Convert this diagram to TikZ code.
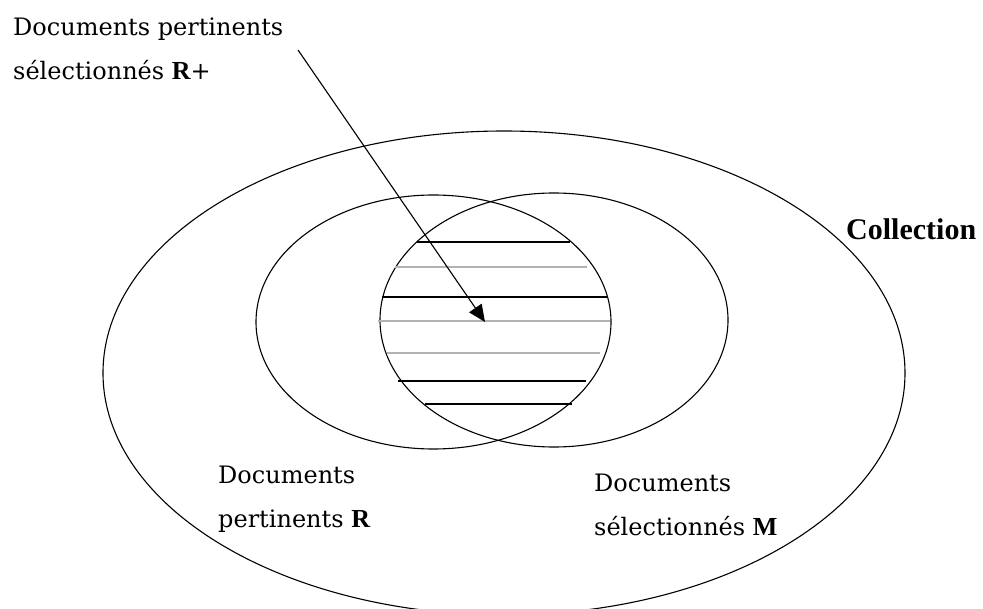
\documentclass[tikz,border=0pt]{standalone}
\usepackage{fontspec}
\setmainfont{DejaVu Serif}
\newfontfamily\timesfont{Liberation Serif}
\usetikzlibrary{arrows.meta}

\newcommand{\labelfont}{\fontsize{24}{44}\selectfont}
\newcommand{\boldletter}[1]{{\timesfont\bfseries\fontsize{26}{44}\selectfont #1}}

\begin{document}
\begin{tikzpicture}[x=1pt, y=-1pt, every node/.style={font=\labelfont, inner sep=0pt},
    setline/.style={line width=1.1pt},
    hatchblack/.style={black, line width=1.3pt},
    hatchgray/.style={gray!60, line width=1.6pt}]
      \useasboundingbox (0,0) rectangle (983,609);
      % collection
      \draw[setline] (504,373) ellipse [x radius=401, y radius=242];
      \node[anchor=base west, font=\timesfont\bfseries\fontsize{30}{36}\selectfont] (collection) at (846,240) {Collection};
      % relevant documents R, selected documents M
      \draw[setline] (433.5,322) ellipse [x radius=177.5, y radius=127];
      \draw[setline] (554,320) ellipse [x radius=174, y radius=127];
      % hatching of R+
      \draw[hatchblack] (417,242) -- (570,242);
      \draw[hatchgray] (395,267) -- (587,267);
      \draw[hatchblack] (382,297) -- (608,297);
      \draw[hatchgray] (378,321) -- (610,321);
      \draw[hatchgray] (387,353) -- (600,353);
      \draw[hatchblack] (398,381) -- (586,381);
      \draw[hatchblack] (425,404) -- (572,404);
      % labels (base = last line)
      \node[anchor=base west, align=left] (relevant) at (218,527) {Documents\\pertinents \boldletter{R}};
      \node[anchor=base west, align=left] (selected) at (594,535) {Documents\\sélectionnés \boldletter{M}};
      \node[anchor=base west, align=left] (rplus) at (13,80) {Documents pertinents\\sélectionnés \boldletter{R}+};
      % arrow to R+
      \coordinate (arrowtail) at (298,50);
      \coordinate (rplushead) at (485,322);
      \draw[line width=1.1pt, -{Triangle[length=17pt, width=15pt]}] (arrowtail) -- (rplushead);
    \end{tikzpicture}
\end{document}
